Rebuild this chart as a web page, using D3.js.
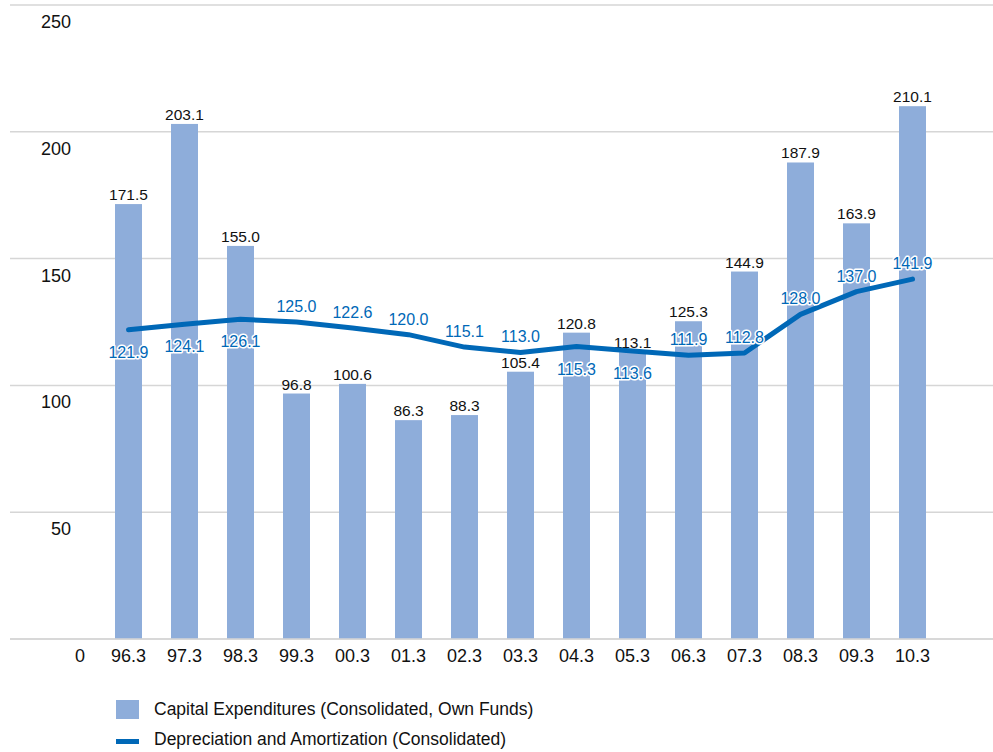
<!DOCTYPE html>
<html>
<head>
<meta charset="utf-8">
<script src="https://cdn.jsdelivr.net/npm/d3@7"></script>
<style>
  body { margin: 0; background: #fff; }
  svg { display: block; font-family: "Liberation Sans", Arial, Helvetica, sans-serif; }
</style>
</head>
<body>
<svg id="chart" width="993" height="752"></svg>
<script>
// fiscal years (March)
const years = ["96.3", "97.3", "98.3", "99.3", "00.3", "01.3", "02.3", "03.3", "04.3", "05.3", "06.3", "07.3", "08.3", "09.3", "10.3"];
const capex = [171.5, 203.1, 155.0, 96.8, 100.6, 86.3, 88.3, 105.4, 120.8, 113.1, 125.3, 144.9, 187.9, 163.9, 210.1];
const depreciation = [121.9, 124.1, 126.1, 125.0, 122.6, 120.0, 115.1, 113.0, 115.3, 113.6, 111.9, 112.8, 128.0, 137.0, 141.9];
// where each depreciation label sits relative to the line
const depLabelSide = ["below", "below", "below", "above", "above", "above", "above", "above", "below", "below", "above", "above", "above", "above", "above"];
const yTicks = [0, 50, 100, 150, 200, 250];
const seriesNames = ["Capital Expenditures (Consolidated, Own Funds)", "Depreciation and Amortization (Consolidated)"];

const barColor = "#8eadda";
const lineColor = "#0068b7";

const svg = d3.select("#chart");

const y = d3.scaleLinear().domain([0, 250]).range([639, 5]);
const x = d3.scaleBand()
    .domain(years)
    .range([100.5, 940.5])
    .paddingInner(0.518)
    .paddingOuter(0.259);

// gridlines
svg.append("g")
    .selectAll("line")
    .data(yTicks)
    .enter()
    .append("line")
    .attr("x1", 10)
    .attr("x2", 993)
    .attr("y1", d => y(d))
    .attr("y2", d => y(d))
    .style("stroke", "#d6d6d6")
    .style("stroke-width", 1.5);

// y labels (sit below each gridline)
svg.append("g")
    .selectAll("text")
    .data(yTicks.filter(d => d > 0))
    .enter()
    .append("text")
    .attr("x", 71)
    .attr("y", d => y(d) + 23)
    .attr("text-anchor", "end")
    .style("font-size", "18px")
    .style("fill", "#111")
    .text(d => d);

svg.append("text")
    .attr("x", 80)
    .attr("y", y(0) + 23)
    .attr("text-anchor", "middle")
    .style("font-size", "18px")
    .style("fill", "#111")
    .text("0");

// bars
svg.append("g")
    .selectAll("rect")
    .data(capex)
    .enter()
    .append("rect")
    .attr("x", (d, i) => x(years[i]))
    .attr("width", x.bandwidth())
    .attr("y", d => y(d))
    .attr("height", d => y(0) - y(d))
    .style("fill", barColor);

// redraw baseline on top of bars
svg.append("line")
    .attr("x1", 10).attr("x2", 993)
    .attr("y1", y(0)).attr("y2", y(0))
    .style("stroke", "#d6d6d6")
    .style("stroke-width", 1.5);

// bar values
svg.append("g")
    .selectAll("text")
    .data(capex)
    .enter()
    .append("text")
    .attr("x", (d, i) => x(years[i]) + x.bandwidth() / 2)
    .attr("y", d => y(d) - 4)
    .attr("text-anchor", "middle")
    .style("font-size", "15.5px")
    .style("fill", "#111")
    .text(d => d.toFixed(1));

// x labels
svg.append("g")
    .selectAll("text")
    .data(years)
    .enter()
    .append("text")
    .attr("x", d => x(d) + x.bandwidth() / 2)
    .attr("y", y(0) + 23)
    .attr("text-anchor", "middle")
    .style("font-size", "18px")
    .style("fill", "#111")
    .text(d => d);

// depreciation line
const line = d3.line()
    .x((d, i) => x(years[i]) + x.bandwidth() / 2)
    .y(d => y(d));

svg.append("path")
    .datum(depreciation)
    .attr("d", line)
    .style("fill", "none")
    .style("stroke", lineColor)
    .style("stroke-width", 5)
    .style("stroke-linejoin", "round")
    .style("stroke-linecap", "round");

svg.append("g")
    .selectAll("text")
    .data(depreciation)
    .enter()
    .append("text")
    .attr("x", (d, i) => x(years[i]) + x.bandwidth() / 2)
    .attr("y", (d, i) => depLabelSide[i] === "above" ? y(d) - 10 : y(d) + 28)
    .attr("text-anchor", "middle")
    .style("font-size", "16px")
    .style("fill", lineColor)
    .style("stroke", "#fff")
    .style("stroke-width", 3)
    .style("paint-order", "stroke")
    .style("stroke-linejoin", "round")
    .text(d => d.toFixed(1));

// legend
const legend = svg.append("g");
legend.append("rect")
    .attr("x", 116).attr("y", 700)
    .attr("width", 23).attr("height", 19)
    .style("fill", barColor);
legend.append("rect")
    .attr("x", 116).attr("y", 739)
    .attr("width", 23).attr("height", 5)
    .style("fill", lineColor);
legend.selectAll("text")
    .data(seriesNames)
    .enter()
    .append("text")
    .attr("x", 154)
    .attr("y", (d, i) => 715 + i * 30)
    .style("font-size", "17.5px")
    .style("fill", "#111")
    .text(d => d);
</script>
</body>
</html>
